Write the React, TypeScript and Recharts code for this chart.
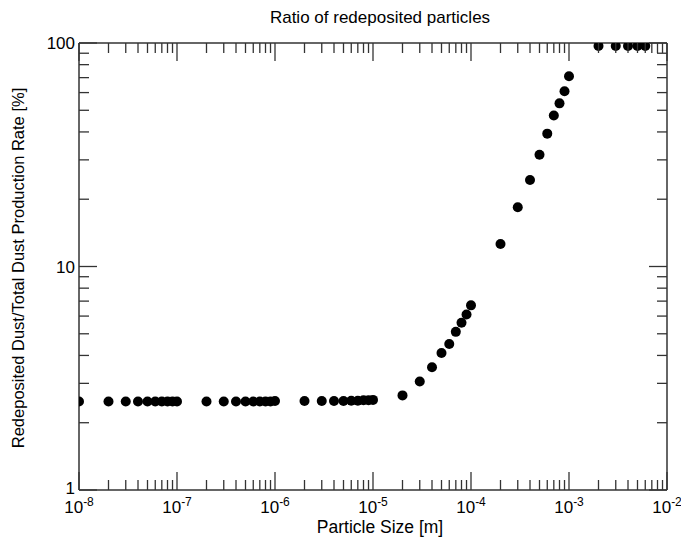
import React from 'react';
import { ScatterChart, Scatter, XAxis, YAxis } from 'recharts';

const sizes = [
  1e-8, 2e-8, 3e-8, 4e-8, 5e-8, 6e-8, 7e-8, 8e-8, 9e-8, 1e-7,
  2e-7, 3e-7, 4e-7, 5e-7, 6e-7, 7e-7, 8e-7, 9e-7, 1e-6,
  2e-6, 3e-6, 4e-6, 5e-6, 6e-6, 7e-6, 8e-6, 9e-6, 1e-5,
  2e-5, 3e-5, 4e-5, 5e-5, 6e-5, 7e-5, 8e-5, 9e-5, 1e-4,
  2e-4, 3e-4, 4e-4, 5e-4, 6e-4, 7e-4, 8e-4, 9e-4, 1e-3,
  2e-3, 3e-3, 4e-3, 5e-3, 6e-3,
];
const ratios = [
  2.49, 2.49, 2.49, 2.49, 2.49, 2.49, 2.49, 2.49, 2.49, 2.49,
  2.49, 2.49, 2.49, 2.49, 2.49, 2.49, 2.49, 2.49, 2.5,
  2.5, 2.5, 2.5, 2.5, 2.51, 2.51, 2.52, 2.52, 2.53,
  2.65, 3.06, 3.54, 4.1, 4.5, 5.1, 5.6, 6.1, 6.7,
  12.6, 18.4, 24.4, 31.6, 39.3, 47.4, 53.7, 60.8, 71,
  97, 97, 97, 97, 97,
];
const xDecades = [-8, -7, -6, -5, -4, -3, -2];
const yDecades = [1, 10, 100];

const data = sizes.map((s, i) => ({ x: s, y: ratios[i] }));

const xTicks: number[] = [];
xDecades.forEach((e) => {
  xTicks.push(Math.pow(10, e));
  if (e < -2) for (let m = 2; m <= 9; m++) xTicks.push(m * Math.pow(10, e));
});
const yTicks: number[] = [];
yDecades.forEach((d) => {
  yTicks.push(d);
  if (d < 100) for (let m = 2; m <= 9; m++) yTicks.push(m * d);
});

const isDecade = (v: number) => Math.abs(Math.log10(v) - Math.round(Math.log10(v))) < 1e-6;
const font = 'Liberation Sans, Arial, sans-serif';
const frame = '#333';

const XTick = (top: boolean) => (props: any) => {
  const { x, y, payload } = props;
  const major = isDecade(payload.value);
  const len = major ? 18 : 10;
  const e = Math.round(Math.log10(payload.value));
  return (
    <g>
      <line x1={x} x2={x} y1={y} y2={top ? y + len : y - len} stroke={frame} strokeWidth={1.3} />
      {!top && major && (
        <text x={x} y={y + 23} textAnchor="middle" fontSize={17} fontFamily={font} fill="#000">
          10<tspan dy={-7} fontSize={12}>{e}</tspan>
        </text>
      )}
    </g>
  );
};

const YTick = (right: boolean) => (props: any) => {
  const { x, y, payload } = props;
  const major = isDecade(payload.value);
  const len = major ? 18 : 10;
  return (
    <g>
      <line x1={x} x2={right ? x - len : x + len} y1={y} y2={y} stroke={frame} strokeWidth={1.3} />
      {!right && major && (
        <text x={x - 4} y={payload.value === 1 ? y + 4 : y + 6} textAnchor="end" fontSize={17}
          fontFamily={font} fill="#000">
          {payload.value}
        </text>
      )}
    </g>
  );
};

export default function App() {
  const axisLine = { stroke: frame, strokeWidth: 1.5 };
  return (
    <div style={{ position: 'absolute', left: 0, top: 0, width: 681, height: 539, background: '#fff' }}>
      <ScatterChart width={681} height={539} margin={{ top: 42, right: 13, left: 0, bottom: 0 }}>
        <XAxis xAxisId="b" dataKey="x" type="number" scale="log" domain={[1e-8, 1e-2]} ticks={xTicks}
          allowDataOverflow height={49} tickLine={false} tickSize={0} tickMargin={0}
          axisLine={axisLine} tick={XTick(false)} interval={0} />
        <XAxis xAxisId="t" orientation="top" dataKey="x" type="number" scale="log" domain={[1e-8, 1e-2]}
          ticks={xTicks} allowDataOverflow height={1} tickLine={false} tickSize={0} tickMargin={0}
          axisLine={axisLine} tick={XTick(true)} interval={0} />
        <YAxis yAxisId="l" dataKey="y" type="number" scale="log" domain={[1, 100]} ticks={yTicks}
          allowDataOverflow width={79} tickLine={false} tickSize={0} tickMargin={0}
          axisLine={axisLine} tick={YTick(false)} interval={0} />
        <YAxis yAxisId="r" orientation="right" dataKey="y" type="number" scale="log" domain={[1, 100]}
          ticks={yTicks} allowDataOverflow width={1} tickLine={false} tickSize={0} tickMargin={0}
          axisLine={axisLine} tick={YTick(true)} interval={0} />
        <Scatter data={data} xAxisId="b" yAxisId="l" fill="#000" isAnimationActive={false}
          shape={(p: any) => <circle cx={p.cx} cy={p.cy} r={5} fill="#000" />} />
        <Scatter data={[]} xAxisId="t" yAxisId="r" isAnimationActive={false} />
        <text x={380} y={23} textAnchor="middle" fontSize={17} fontFamily={font} fill="#000">
          Ratio of redeposited particles
        </text>
        <text x={380} y={533} textAnchor="middle" fontSize={17.5} fontFamily={font} fill="#000">
          Particle Size [m]
        </text>
        <text x={24} y={268} textAnchor="middle" fontSize={16.5} fontFamily={font} fill="#000"
          transform="rotate(-90 24 268)">
          Redeposited Dust/Total Dust Production Rate [%]
        </text>
      </ScatterChart>
    </div>
  );
}
